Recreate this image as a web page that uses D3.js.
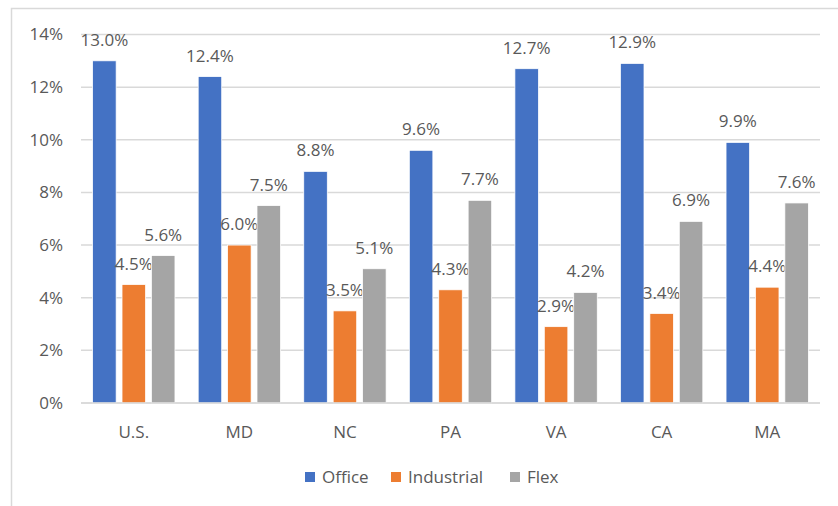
<html>
<script src="https://d3js.org/d3.v7.min.js"></script>
<style>
body { margin: 0; background: #fff; }
text { font-family: "Open Sans", "Liberation Sans", sans-serif; fill: #595959; }
</style>
<body>
<svg width="838" height="506"></svg>
<script>
var categories = ["U.S.", "MD", "NC", "PA", "VA", "CA", "MA"];
var seriesNames = ["Office", "Industrial", "Flex"];
var office = [13.0, 12.4, 8.8, 9.6, 12.7, 12.9, 9.9];
var industrial = [4.5, 6.0, 3.5, 4.3, 2.9, 3.4, 4.4];
var flex = [5.6, 7.5, 5.1, 7.7, 4.2, 6.9, 7.6];
var yTicks = [0, 2, 4, 6, 8, 10, 12, 14];
var colors = ["#4472C4", "#ED7D31", "#A5A5A5"];

var series = [office, industrial, flex];
var svg = d3.select("svg");
var fs = "17px";

// chart frame
svg.append("rect").attr("x", 11.5).attr("y", 8.5).attr("width", 840).attr("height", 510)
  .attr("fill", "none").attr("stroke", "#d9d9d9").attr("stroke-width", 1.5);

var plotLeft = 81, plotRight = 820, plotTop = 34.5, plotBottom = 403;

var x = d3.scaleBand().domain(categories).range([plotLeft, plotRight]).paddingInner(0.22).paddingOuter(0.11);
var xs = d3.scaleBand().domain(seriesNames).range([0, x.bandwidth()]).paddingInner(0.2);
var y = d3.scaleLinear().domain([0, 14]).range([plotBottom, plotTop]);

// gridlines
svg.append("g").selectAll("line").data(yTicks).join("line")
  .attr("x1", plotLeft).attr("x2", plotRight)
  .attr("y1", d => y(d)).attr("y2", d => y(d))
  .attr("stroke", "#d9d9d9").attr("stroke-width", 1.5);

// y axis labels
var yAxis = svg.append("g").attr("transform", "translate(" + plotLeft + ",0)")
  .call(d3.axisLeft(y).tickValues(yTicks).tickFormat(d => d + "%").tickSize(0).tickPadding(18));
yAxis.select(".domain").remove();
yAxis.selectAll("text").style("font-size", fs).attr("fill", "#595959")
  .style("font-family", "'Open Sans', sans-serif");

// bars
var groups = svg.append("g").selectAll("g").data(categories).join("g")
  .attr("transform", d => "translate(" + x(d) + ",0)");

seriesNames.forEach(function(name, si) {
  groups.append("rect")
    .attr("x", xs(name))
    .attr("width", xs.bandwidth())
    .attr("y", (d, i) => y(series[si][i]))
    .attr("height", (d, i) => y(0) - y(series[si][i]))
    .attr("fill", colors[si])
    .attr("stroke", "#fff").attr("stroke-width", 0.75);
  groups.append("text")
    .attr("x", xs(name) + xs.bandwidth() / 2)
    .attr("y", (d, i) => y(series[si][i]) - 15)
    .attr("text-anchor", "middle")
    .style("font-size", fs)
    .text((d, i) => series[si][i].toFixed(1) + "%");
});

// baseline
svg.append("line").attr("x1", plotLeft).attr("x2", plotRight).attr("y1", plotBottom).attr("y2", plotBottom)
  .attr("stroke", "#d9d9d9").attr("stroke-width", 1.5);

// x axis labels
var xAxis = svg.append("g").attr("transform", "translate(0," + plotBottom + ")")
  .call(d3.axisBottom(x).tickSize(0).tickPadding(23));
xAxis.select(".domain").remove();
xAxis.selectAll("text").style("font-size", fs).attr("fill", "#595959")
  .style("font-family", "'Open Sans', sans-serif");

// legend
var legendX = [305, 391, 510];
var legend = svg.append("g").selectAll("g").data(seriesNames).join("g")
  .attr("transform", (d, i) => "translate(" + legendX[i] + ",472)");
legend.append("rect").attr("width", 10).attr("height", 10).attr("fill", (d, i) => colors[i]);
legend.append("text").attr("x", 17).attr("y", 11).style("font-size", fs).text(d => d);
</script>
</body>
</html>
